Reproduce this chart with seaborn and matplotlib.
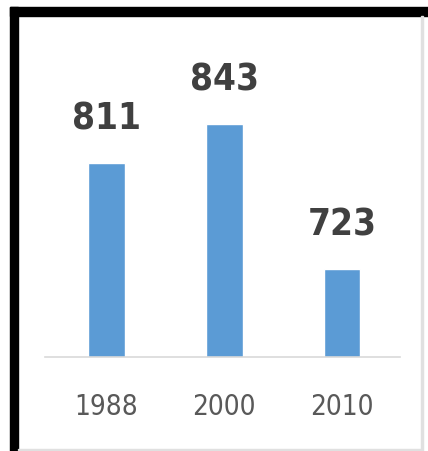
import matplotlib
matplotlib.use("Agg")
import matplotlib.pyplot as plt
import matplotlib.patches as mpatches
import seaborn as sns
import pandas as pd

# values
years = ["1988", "2000", "2010"]
counts = [811, 843, 723]

df = pd.DataFrame({"year": years, "count": counts})

sns.set_style("white")
plt.rcParams["font.family"] = ["DejaVu Sans"]
plt.rcParams["font.stretch"] = "condensed"

fig = plt.figure(figsize=(4.28, 4.51), dpi=100)
# axes box in figure fractions (pixels / figure size)
ax = fig.add_axes([45 / 428, 1 - 357 / 451, 355 / 428, 327 / 451])

sns.barplot(data=df, x="year", y="count", color="#5B9BD5", saturation=1,
            width=0.31, ax=ax)

ax.set_ylim(650, 920.7)
ax.set_xlim(-0.52, 2.49)

# value labels above bars
ax.bar_label(ax.containers[0], fmt="%d", padding=18, fontsize=26.5,
             fontweight="bold", fontstretch="condensed", color="#404040")

ax.set_xlabel("")
ax.set_ylabel("")
ax.set_yticks([])
ax.tick_params(axis="x", length=0, pad=26, labelsize=20, labelcolor="#595959")
for s in ["top", "left", "right"]:
    ax.spines[s].set_visible(False)
ax.spines["bottom"].set_color("#d9d9d9")
ax.spines["bottom"].set_linewidth(1.2)

# frame around the picture: thick black on top and left, thin grey right and bottom
W, H = 428, 451
fig.patches.append(mpatches.Rectangle((10 / W, 1 - 16 / H), 418 / W, 9 / H,
                                      transform=fig.transFigure, color="black"))
fig.patches.append(mpatches.Rectangle((10 / W, 0), 8 / W, 1 - 7 / H,
                                      transform=fig.transFigure, color="black"))
fig.patches.append(mpatches.Rectangle((421 / W, 0), 1.5 / W, 1 - 16 / H,
                                      transform=fig.transFigure, color="#e0e0e0"))
fig.patches.append(mpatches.Rectangle((18 / W, 1 / H), 404 / W, 1.5 / H,
                                      transform=fig.transFigure, color="#e0e0e0"))

fig.savefig("out.png", dpi=100)
